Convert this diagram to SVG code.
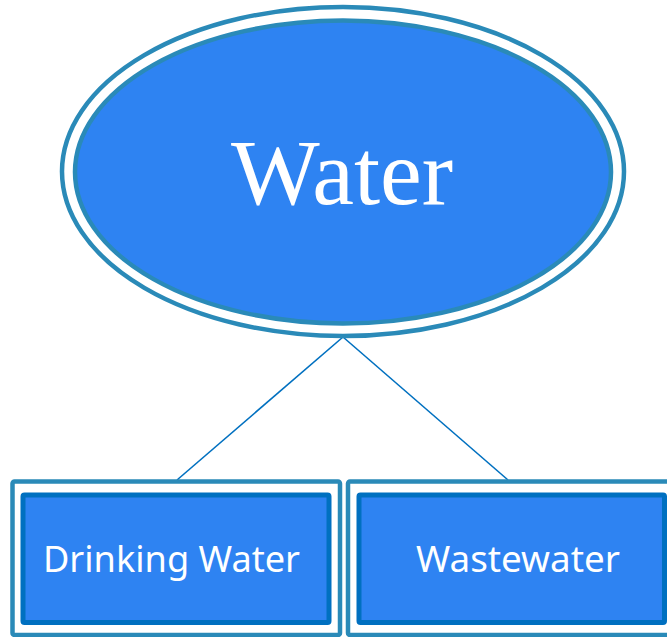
<svg xmlns="http://www.w3.org/2000/svg" width="667" height="637" viewBox="0 0 667 637">
  <style>
    .outer { fill: #ffffff; stroke: #2A8AB8; stroke-width: 4.5; }
    .inner { fill: #2E83F2; stroke: #0070C0; stroke-width: 5; }
    .innerE { fill: #2E83F2; stroke: #2A8AB8; stroke-width: 4.5; }
    .lbl { fill: #ffffff; font-family: "Noto Sans", "Open Sans", sans-serif; font-size: 36px; text-anchor: middle; }
    .conn { stroke: #0070C0; stroke-width: 1.6; fill: none; }
  </style>
  <rect width="667" height="637" fill="#ffffff"/>
  <g id="connectors">
    <line class="conn" x1="343" y1="337" x2="177" y2="480"/>
    <line class="conn" x1="343" y1="337" x2="508" y2="480"/>
  </g>
  <g id="water">
    <ellipse class="outer" cx="343" cy="171.5" rx="281" ry="164.5"/>
    <ellipse class="innerE" cx="343" cy="172" rx="268" ry="151.5"/>
    <text x="342" y="204" fill="#ffffff" font-family="'Liberation Serif', 'Times New Roman', serif" font-size="94" text-anchor="middle">Water</text>
  </g>
  <g id="drinking">
    <rect class="outer" x="12.5" y="481.5" width="327.5" height="153.5" rx="2"/>
    <rect class="inner" x="23" y="495" width="306" height="127.5" rx="1.5"/>
    <text class="lbl" x="171.5" y="572" textLength="257" lengthAdjust="spacingAndGlyphs">Drinking Water</text>
  </g>
  <g id="wastewater">
    <rect class="outer" x="348" y="481.5" width="330" height="153.5" rx="2"/>
    <rect class="inner" x="359" y="495" width="305.5" height="127.5" rx="1.5"/>
    <text class="lbl" x="518" y="572" textLength="204" lengthAdjust="spacingAndGlyphs">Wastewater</text>
  </g>
</svg>
